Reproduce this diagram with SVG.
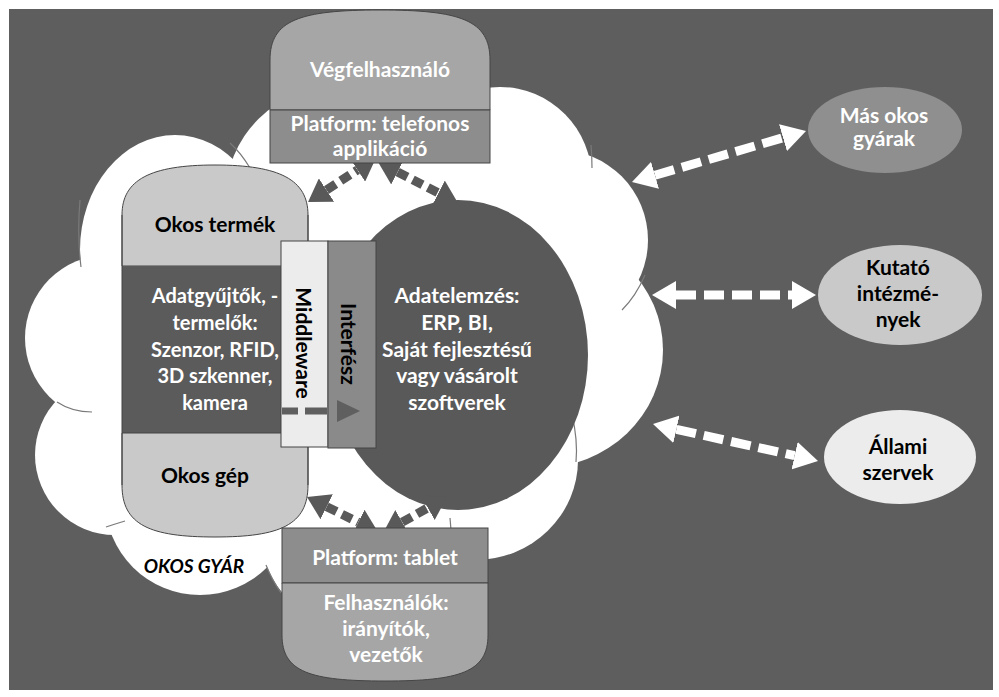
<svg xmlns="http://www.w3.org/2000/svg" width="999" height="697" viewBox="0 0 999 697">
<defs>
<style>
.t{font-family:Lato,"Liberation Sans",sans-serif;font-weight:bold;font-size:21px;text-anchor:middle}
.w{fill:#ffffff}
.k{fill:#000000}
.ol{stroke:#454545;stroke-width:1}
.arc{fill:none;stroke:#7a7a7a;stroke-width:1.2}
.dk{fill:none;stroke:#595959;stroke-width:9;stroke-dasharray:11 6;marker-start:url(#hd);marker-end:url(#hd)}
.wh{fill:none;stroke:#ffffff;stroke-width:9;stroke-dasharray:20 8;marker-start:url(#hw);marker-end:url(#hw)}
</style>
<marker id="hd" markerUnits="userSpaceOnUse" markerWidth="22" markerHeight="28" viewBox="0 0 22 28" refX="0" refY="14" orient="auto-start-reverse"><path d="M0,0 L22,14 L0,28 Z" fill="#595959"/></marker>
<marker id="hw" markerUnits="userSpaceOnUse" markerWidth="24" markerHeight="28" viewBox="0 0 24 28" refX="0" refY="14" orient="auto-start-reverse"><path d="M0,0 L24,14 L0,28 Z" fill="#ffffff"/></marker>
</defs>
<rect x="0" y="0" width="999" height="697" fill="#ffffff"/>
<rect x="9" y="9" width="984" height="681" fill="#5e5e5e"/>

<g id="cloud" fill="#ffffff">
<ellipse cx="350" cy="340" rx="250" ry="200"/>
<ellipse cx="175" cy="250" rx="95" ry="115"/>
<circle cx="340" cy="200" r="115"/>
<ellipse cx="500" cy="180" rx="92" ry="93"/>
<circle cx="558" cy="240" r="90"/>
<ellipse cx="540" cy="350" rx="123" ry="118"/>
<ellipse cx="475" cy="460" rx="103" ry="100"/>
<circle cx="360" cy="530" r="100"/>
<circle cx="200" cy="500" r="95"/>
<circle cx="115" cy="455" r="80"/>
<circle cx="108" cy="338" r="83"/>
</g>
<g id="cloud-arcs">
<path class="arc" d="M230,143 Q241,153 250,168"/>
<path class="arc" d="M591,145 Q592,156 592,168"/>
<path class="arc" d="M645,275 Q636,296 622,310"/>
<path class="arc" d="M572,415 Q578,440 576,462"/>
<path class="arc" d="M80,200 Q77,235 81,267"/>
<path class="arc" d="M57,402 Q72,412 92,412"/>
<path class="arc" d="M106,527 Q115,524 125,521"/>
<path class="arc" d="M266,565 Q272,580 281,593"/>
<path class="arc" d="M450,518 L451,530"/>
</g>

<g id="connectors">
<line class="wh" x1="655" y1="175.3" x2="783" y2="137.7"/>
<line class="wh" x1="676" y1="295" x2="792" y2="295"/>
<line class="wh" x1="676.4" y1="429.3" x2="794.6" y2="455.7"/>
</g>

<g id="adatelemzes">
<ellipse cx="458" cy="355" rx="130" ry="155" fill="#595959"/>
<text class="t w" x="457" y="303">Adatelemzés:</text>
<text class="t w" x="457" y="330">ERP, BI,</text>
<text class="t w" x="457" y="357">Saját fejlesztésű</text>
<text class="t w" x="457" y="383">vagy vásárolt</text>
<text class="t w" x="457" y="410">szoftverek</text>
</g>

<g id="okos-termek">
<path class="ol" d="M122,266 V215 C122,180 150,165 215,165 C280,165 308,180 308,215 V266 Z" fill="#c9c9c9"/>
<rect x="122" y="266" width="186" height="167" fill="#5b5b5b"/>
<path class="ol" d="M122,433 V485 C122,525 150,537 215,537 C280,537 308,525 308,485 V433 Z" fill="#c9c9c9"/>
<path d="M122,215 V485 M308,215 V485" stroke="#454545" stroke-width="1" fill="none"/>
<text class="t k" x="215" y="232">Okos termék</text>
<g style="font-size:20px">
<text class="t w" x="215" y="303" style="font-size:20px">Adatgyűjtők, -</text>
<text class="t w" x="215" y="330" style="font-size:20px">termelők:</text>
<text class="t w" x="215" y="357" style="font-size:20px">Szenzor, RFID,</text>
<text class="t w" x="215" y="383" style="font-size:20px">3D szkenner,</text>
<text class="t w" x="215" y="410" style="font-size:20px">kamera</text>
</g>
<text class="t k" x="205" y="483">Okos gép</text>
</g>

<g id="middleware">
<rect class="ol" x="281" y="241" width="47" height="206" fill="#ececec"/>
<text class="t k" transform="translate(296,343) rotate(90)">Middleware</text>
</g>
<g id="interfesz">
<rect class="ol" x="328" y="241" width="48" height="207" fill="#8a8a8a"/>
<text class="t k" transform="translate(341,344) rotate(90)">Interfész</text>
</g>

<g id="connectors-dark">
<line class="dk" x1="326.5" y1="190.1" x2="357.5" y2="169.9"/>
<line class="dk" x1="397.6" y1="172" x2="438.4" y2="193"/>
<line class="dk" x1="326.7" y1="506.7" x2="358.3" y2="522.3"/>
<line class="dk" x1="402.2" y1="522.2" x2="427.8" y2="507.8"/>
<line x1="282" y1="411" x2="337" y2="411" stroke="#5f5f5f" stroke-width="7" stroke-dasharray="16 7 22 10"/>
<polygon points="337,400 360,411 337,422" fill="#5f5f5f"/>
</g>

<g id="vegfelhasznalo">
<path class="ol" d="M270,110 V60 C270,20 300,10 380,10 C460,10 490,20 490,60 V110 Z" fill="#a6a6a6"/>
<rect class="ol" x="270" y="110" width="220" height="53" fill="#8d8d8d"/>
<text class="t w" x="380" y="77">Végfelhasználó</text>
<text class="t w" x="380" y="131">Platform: telefonos</text>
<text class="t w" x="380" y="156">applikáció</text>
</g>

<g id="tablet">
<rect class="ol" x="282" y="528" width="206" height="55" fill="#8d8d8d"/>
<path class="ol" d="M282,583 V635 C282,672 310,681 385,681 C460,681 488,672 488,635 V583 Z" fill="#a6a6a6"/>
<text class="t w" x="385" y="565">Platform: tablet</text>
<text class="t w" x="386" y="610">Felhasználók:</text>
<text class="t w" x="386" y="636">irányítók,</text>
<text class="t w" x="386" y="662">vezetők</text>
</g>

<g id="okos-gyar-label">
<text class="t k" x="194" y="573" style="font-style:italic;font-size:19px">OKOS GYÁR</text>
</g>

<g id="mas-okos-gyarak">
<ellipse cx="885" cy="130" rx="77" ry="43" fill="#8f8f8f"/>
<text class="t w" x="884" y="123">Más okos</text>
<text class="t w" x="884" y="146">gyárak</text>
</g>
<g id="kutato">
<ellipse cx="900" cy="295" rx="82" ry="50" fill="#c9c9c9"/>
<text class="t k" x="898" y="275">Kutató</text>
<text class="t k" x="898" y="301">intézmé-</text>
<text class="t k" x="898" y="327">nyek</text>
</g>
<g id="allami">
<ellipse cx="900" cy="457" rx="76" ry="47" fill="#ececec"/>
<text class="t k" x="898" y="454">Állami</text>
<text class="t k" x="898" y="480">szervek</text>
</g>
</svg>
